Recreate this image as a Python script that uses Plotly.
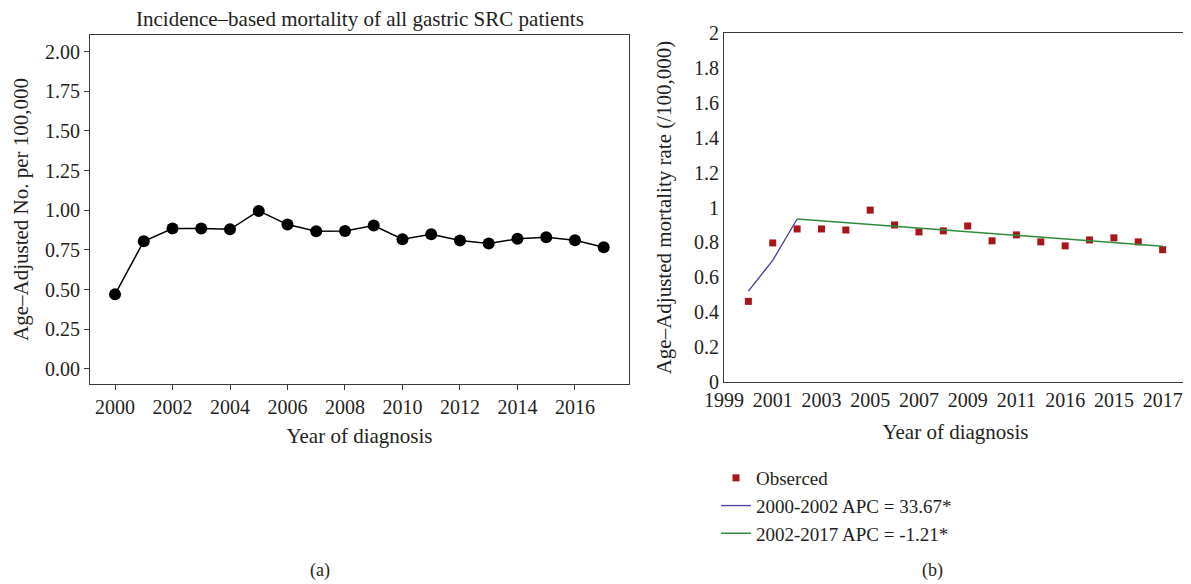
import plotly.graph_objects as go

# ----------------------------
# DATA
# ----------------------------
years = list(range(2000, 2018))

# panel (a): incidence-based mortality
ibm_rate = [0.47, 0.805, 0.885, 0.885, 0.88, 0.996, 0.91, 0.868, 0.87, 0.904,
            0.818, 0.849, 0.809, 0.79, 0.82, 0.83, 0.811, 0.767]
a_ticks = list(range(2000, 2017, 2))
a_yticks = [0, 0.25, 0.5, 0.75, 1.0, 1.25, 1.5, 1.75, 2.0]

# panel (b): joinpoint fit
observed = [0.462, 0.797, 0.877, 0.877, 0.871, 0.985, 0.900, 0.860, 0.866, 0.894,
            0.809, 0.843, 0.803, 0.780, 0.814, 0.826, 0.803, 0.758]
seg1_years = [2000, 2001, 2002]
seg1_fit = [0.521, 0.697, 0.934]
seg2_years = [2002, 2017]
seg2_fit = [0.934, 0.778]
b_tickvals = [1999, 2001, 2003, 2005, 2007, 2009, 2011, 2013, 2015, 2017]
b_ticktext = ["1999", "2001", "2003", "2005", "2007", "2009", "2011", "2016", "2015", "2017"]

# page body has an 8px margin, so the figure is drawn from (8, 8)
PAGE_W, PAGE_H = 1191, 584
OFF = 8
W, H = PAGE_W - OFF, PAGE_H - OFF
FONT = "Liberation Serif"
INK = "#231f20"


def px_x(x):
    return (x - OFF) / W


def px_y(y):
    return 1 - (y - OFF) / H


fig = go.Figure()

fig.add_trace(go.Scatter(
    x=years, y=ibm_rate, mode="lines+markers",
    line=dict(color="black", width=1.5),
    marker=dict(color="black", size=12),
    showlegend=False, xaxis="x", yaxis="y"
))

fig.add_trace(go.Scatter(
    x=years, y=observed, mode="markers", name="Obserced",
    marker=dict(color="#a8161c", size=7, symbol="square"),
    xaxis="x2", yaxis="y2"
))
fig.add_trace(go.Scatter(
    x=seg1_years, y=seg1_fit, mode="lines", name="2000-2002 APC = 33.67*",
    line=dict(color="#4a3f9e", width=1.3),
    xaxis="x2", yaxis="y2"
))
fig.add_trace(go.Scatter(
    x=seg2_years, y=seg2_fit, mode="lines", name="2002-2017 APC = -1.21*",
    line=dict(color="#2f8a3a", width=1.5),
    xaxis="x2", yaxis="y2"
))

axis_common = dict(
    showgrid=False, zeroline=False, showline=True, linecolor="#3a3a3a",
    linewidth=1, mirror=True, automargin=False,
    tickfont=dict(family=FONT, size=20, color=INK),
)
title_font = dict(family=FONT, size=21, color=INK)

fig.update_layout(
    width=W, height=H,
    margin=dict(l=0, r=0, t=0, b=0),
    paper_bgcolor="white", plot_bgcolor="white",
    font=dict(family=FONT, size=20, color=INK),
    xaxis=dict(
        domain=[px_x(90), px_x(629)], range=[1999.13, 2017.88],
        tickvals=a_ticks, ticks="outside", ticklen=5, tickcolor="#3a3a3a",
        title=dict(text="Year of diagnosis", font=title_font, standoff=11),
        anchor="y", **axis_common
    ),
    yaxis=dict(
        domain=[px_y(384), px_y(35)], range=[-0.095, 2.105],
        tickvals=a_yticks, tickformat=".2f", ticks="outside", ticklen=5,
        tickcolor="#3a3a3a",
        title=dict(text="Age–Adjusted No. per 100,000", font=title_font, standoff=10),
        anchor="x", **axis_common
    ),
    xaxis2=dict(
        domain=[px_x(724), px_x(1187)], range=[1999, 2018],
        tickvals=b_tickvals, ticktext=b_ticktext, ticks="",
        title=dict(text="Year of diagnosis", font=title_font, standoff=14),
        anchor="y2", **axis_common
    ),
    yaxis2=dict(
        domain=[px_y(382), px_y(33)], range=[0, 2], dtick=0.2, ticks="",
        title=dict(text="Age–Adjusted mortality rate (/100,000)", font=title_font, standoff=16),
        anchor="x2", **axis_common
    ),
    legend=dict(
        x=px_x(716), y=px_y(459), xanchor="left", yanchor="top",
        font=dict(family=FONT, size=19, color=INK),
        bgcolor="rgba(0,0,0,0)", tracegroupgap=0
    ),
    annotations=[
        dict(text="Incidence–based mortality of all gastric SRC patients",
             x=px_x(360), y=px_y(19), xref="paper", yref="paper",
             xanchor="center", yanchor="middle",
             showarrow=False, font=dict(family=FONT, size=21, color=INK)),
        dict(text="(a)", x=px_x(320), y=px_y(570), xref="paper", yref="paper",
             xanchor="center", yanchor="middle",
             showarrow=False, font=dict(family=FONT, size=18, color=INK)),
        dict(text="(b)", x=px_x(932), y=px_y(570), xref="paper", yref="paper",
             xanchor="center", yanchor="middle",
             showarrow=False, font=dict(family=FONT, size=18, color=INK)),
    ],
)

fig.write_html("out.html")
